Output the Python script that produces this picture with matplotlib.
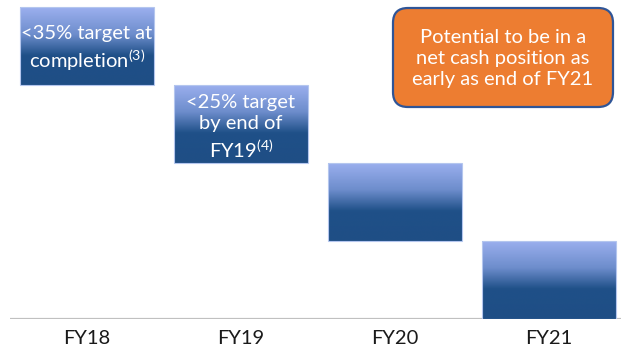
import numpy as np
import matplotlib
matplotlib.use("Agg")
import matplotlib.pyplot as plt
from matplotlib.colors import LinearSegmentedColormap
from matplotlib.patches import FancyBboxPatch

# --- data ---------------------------------------------------------------
categories = ["FY18", "FY19", "FY20", "FY21"]
bar_bottom = [3.0, 2.0, 1.0, 0.0]
bar_top    = [4.0, 3.0, 2.0, 1.0]
bar_notes  = {
    "FY18": r"<35% target at" + "\n" + r"$\mathregular{completion^{(3)}}$",
    "FY19": "<25% target\nby end of\n" + r"$\mathregular{FY19^{(4)}}$",
}
callout = "Potential to be in a\nnet cash position as\nearly as end of FY21"

# --- style ----------------------------------------------------------------
plt.rcParams["font.family"] = ["Lato", "DejaVu Sans"]
W, H = 621, 356
grad = LinearSegmentedColormap.from_list(
    "bar_grad",
    [(0.0, "#1f4e85"), (0.38, "#1f5088"), (0.65, "#6d8dcc"), (1.0, "#9cb0ef")],
)

fig = plt.figure(figsize=(W / 100, H / 100), dpi=100)
ax = fig.add_axes([10 / W, (H - 319) / H, 611 / W, 319 / H])

x = np.arange(len(categories))
heights = [t - b for t, b in zip(bar_top, bar_bottom)]
bars = ax.bar(x, heights, bottom=bar_bottom, width=0.87,
              facecolor="none", edgecolor="#b4c6ee", linewidth=0.8, zorder=3)

# gradient fill clipped to each bar
g = np.linspace(0, 1, 256).reshape(-1, 1)
for bar in bars:
    x0, y0 = bar.get_x(), bar.get_y()
    x1, y1 = x0 + bar.get_width(), y0 + bar.get_height()
    im = ax.imshow(g, cmap=grad, extent=[x0, x1, y0, y1], origin="lower",
                   aspect="auto", interpolation="bicubic", zorder=2)
    im.set_clip_path(bar)

for i, cat in enumerate(categories):
    if cat in bar_notes:
        yc = (bar_top[i] + bar_bottom[i]) / 2 - 0.04
        ax.text(x[i], yc, bar_notes[cat], ha="center", va="center",
                color="white", fontsize=14.5, linespacing=1.32, zorder=4)

ax.axhline(0, color="#c0c0c0", linewidth=1.6, zorder=1)
ax.set_xlim(-0.5, 3.468)
ax.set_ylim(0, 319 / 78)
ax.set_xticks(x)
ax.set_xticklabels(categories, fontsize=14.5, color="#1a1a1a")
ax.tick_params(axis="x", length=0, pad=8)
ax.set_yticks([])
for s in ax.spines.values():
    s.set_visible(False)

# orange callout box (figure coords)
bx0, by0, bx1, by1 = 393 / W, 1 - 107 / H, 613 / W, 1 - 8 / H
box = FancyBboxPatch((bx0, by0), bx1 - bx0, by1 - by0,
                     boxstyle="round,pad=0,rounding_size=0.024",
                     mutation_aspect=W / H, transform=fig.transFigure,
                     facecolor="#ed7d31", edgecolor="#2f5597", linewidth=1.6)
fig.patches.append(box)
fig.text((bx0 + bx1) / 2, (by0 + by1) / 2 - 0.003, callout, ha="center",
         va="center", color="white", fontsize=14.5, linespacing=1.3)

fig.savefig("out.png", dpi=100)
